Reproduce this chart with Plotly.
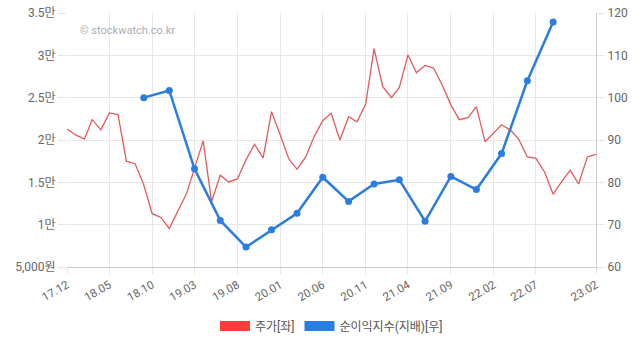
import plotly.graph_objects as go

# Monthly share price (KRW), Dec 2017 - Feb 2023
price_months = [
    "2017-12", "2018-01", "2018-02", "2018-03", "2018-04", "2018-05", "2018-06",
    "2018-07", "2018-08", "2018-09", "2018-10", "2018-11", "2018-12",
    "2019-01", "2019-02", "2019-03", "2019-04", "2019-05", "2019-06",
    "2019-07", "2019-08", "2019-09", "2019-10", "2019-11", "2019-12",
    "2020-01", "2020-02", "2020-03", "2020-04", "2020-05", "2020-06",
    "2020-07", "2020-08", "2020-09", "2020-10", "2020-11", "2020-12",
    "2021-01", "2021-02", "2021-03", "2021-04", "2021-05", "2021-06",
    "2021-07", "2021-08", "2021-09", "2021-10", "2021-11", "2021-12",
    "2022-01", "2022-02", "2022-03", "2022-04", "2022-05", "2022-06",
    "2022-07", "2022-08", "2022-09", "2022-10", "2022-11", "2022-12",
    "2023-01", "2023-02",
]
price_values = [
    21300, 20600, 20100, 22400, 21200, 23200, 23000,
    17500, 17200, 14700, 11300, 10850, 9550,
    11700, 13700, 16650, 19900, 12700, 15850,
    15050, 15400, 17650, 19500, 17900, 23350,
    20600, 17750, 16550, 18000, 20400, 22300,
    23150, 20000, 22750, 22150, 24250, 30800,
    26300, 25000, 26200, 30050, 27950, 28800,
    28500, 26500, 24150, 22400, 22650, 23950,
    19800, 20800, 21800, 21200, 20100, 18000,
    17850, 16250, 13600, 15050, 16450, 14800,
    18000, 18300,
]

# Quarterly net income index (controlling interest)
index_quarters = [
    "2018-09", "2018-12", "2019-03", "2019-06", "2019-09", "2019-12",
    "2020-03", "2020-06", "2020-09", "2020-12", "2021-03", "2021-06",
    "2021-09", "2021-12", "2022-03", "2022-06", "2022-09",
]
index_values = [
    100.0, 101.7, 83.2, 71.0, 64.7, 68.8,
    72.7, 81.2, 75.5, 79.6, 80.6, 70.8,
    81.4, 78.3, 86.8, 104.0, 117.9,
]

# Axis ticks
x_tick_months = [
    "2017-12", "2018-05", "2018-10", "2019-03", "2019-08", "2020-01",
    "2020-06", "2020-11", "2021-04", "2021-09", "2022-02", "2022-07", "2023-02",
]
x_tick_labels = [
    "17.12", "18.05", "18.10", "19.03", "19.08", "20.01",
    "20.06", "20.11", "21.04", "21.09", "22.02", "22.07", "23.02",
]
left_tick_vals = [5000, 10000, 15000, 20000, 25000, 30000, 35000]
left_tick_labels = ["5,000원", "1만", "1.5만", "2만", "2.5만", "3만", "3.5만"]
right_tick_vals = [60, 70, 80, 90, 100, 110, 120]

series_names = ["주가[좌]", "순이익지수(지배)[우]"]

RED = "#e35a5a"
BLUE = "#2b7ddf"
GRID = "#e6e6e6"
AXIS = "#cccccc"
TEXT = "#666666"
FONT = "Roboto, 'Noto Sans CJK KR', sans-serif"


def to_date(m):
    return m + "-01"


fig = go.Figure()

fig.add_trace(go.Scatter(
    x=[to_date(m) for m in price_months], y=price_values,
    mode="lines", line=dict(color=RED, width=1.3),
    name=series_names[0], showlegend=False, yaxis="y",
    hoverinfo="skip",
))
fig.add_trace(go.Scatter(
    x=[to_date(m) for m in index_quarters], y=index_values,
    mode="lines+markers", line=dict(color=BLUE, width=2.5),
    marker=dict(color=BLUE, size=7),
    name=series_names[1], showlegend=False, yaxis="y2",
    hoverinfo="skip",
))

# Legend entries drawn as solid swatches
for name, color in zip(series_names, ["#ff3b3b", "#2a7fe6"]):
    fig.add_trace(go.Scatter(
        x=[None], y=[None], mode="lines",
        line=dict(color=color, width=10),
        name=name, showlegend=True,
    ))

fig.update_layout(
    width=638, height=342,
    margin=dict(l=67, r=42, t=13, b=75, autoexpand=False),
    paper_bgcolor="white", plot_bgcolor="white",
    font=dict(family=FONT, size=12, color=TEXT),
    showlegend=True,
    legend=dict(
        orientation="h", x=0.5, xanchor="center",
        yref="container", y=0.047, yanchor="middle",
        font=dict(size=12, color="#555555"), itemwidth=30,
        traceorder="normal",
    ),
    xaxis=dict(
        type="date",
        range=[to_date(x_tick_months[0]), to_date(x_tick_months[-1])],
        tickvals=[to_date(m) for m in x_tick_months],
        ticktext=x_tick_labels,
        tickangle=-30,
        showgrid=True, gridcolor=GRID, gridwidth=1,
        ticks="outside", ticklen=6, tickcolor=GRID,
        showline=True, linecolor=AXIS, linewidth=1,
        tickfont=dict(size=11.5, color=TEXT),
        zeroline=False, fixedrange=True, automargin=False,
    ),
    yaxis=dict(
        range=[5000, 35000],
        tickvals=left_tick_vals, ticktext=left_tick_labels,
        showgrid=True, gridcolor=GRID, gridwidth=1,
        ticks="outside", ticklen=8, tickcolor=GRID,
        showline=False, zeroline=False,
        tickfont=dict(size=12, color=TEXT),
        fixedrange=True, automargin=False,
    ),
    yaxis2=dict(
        overlaying="y", side="right",
        range=[60, 120], tickvals=right_tick_vals,
        showgrid=False,
        ticks="outside", ticklen=8, tickcolor=GRID,
        showline=True, linecolor=AXIS, linewidth=1,
        zeroline=False,
        tickfont=dict(size=12, color=TEXT),
        fixedrange=True, automargin=False,
    ),
    annotations=[dict(
        text="© stockwatch.co.kr", xref="paper", yref="paper",
        x=0.02, y=0.93, xanchor="left", yanchor="middle",
        showarrow=False, font=dict(size=11, color="#a9adb5", family=FONT),
    )],
)

fig.write_html("out.html")
